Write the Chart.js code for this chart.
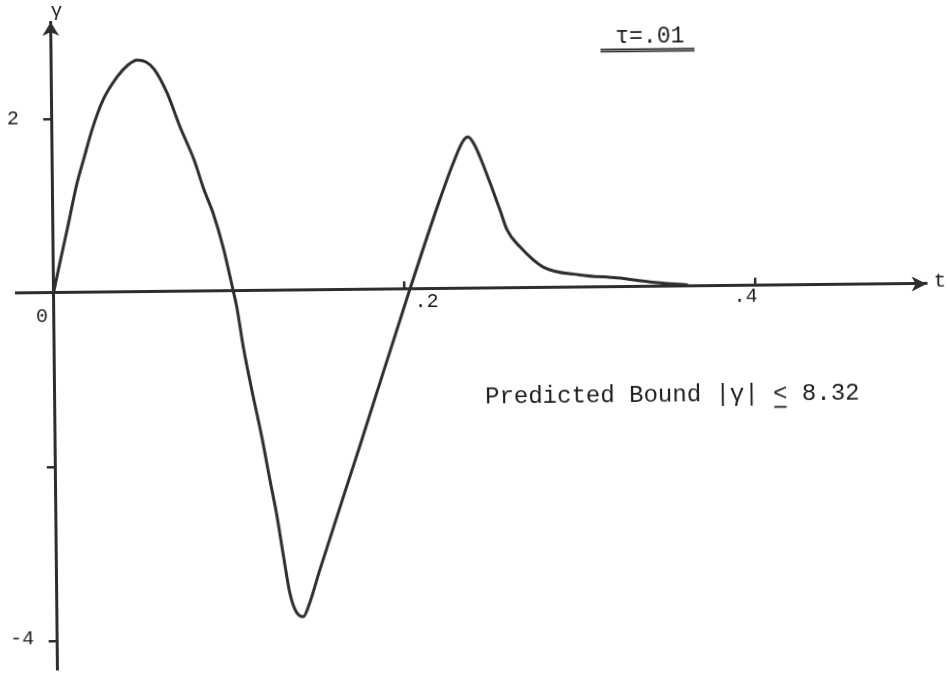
<!DOCTYPE html>
<html>
<head>
<meta charset="utf-8">
<title>Response γ(t), τ = .01</title>
<script src="https://cdn.jsdelivr.net/npm/chart.js@4.4.1/dist/chart.umd.min.js"></script>
<style>
  html, body { margin: 0; padding: 0; background: #ffffff; }
  #wrap { width: 948px; height: 674px; overflow: hidden; background: #ffffff; }
  /* the sheet sits a little askew on the page */
  #chart { display: block; transform: rotate(-0.6deg); transform-origin: 53.5px 293px; }
</style>
</head>
<body>
<div id="wrap"><canvas id="chart" width="948" height="674"></canvas></div>
<script>
// time samples t and the response γ(t)
const tValues = [
  0.0000, 0.0039, 0.0081, 0.0141, 0.0182, 0.0229, 0.0294, 0.0375, 0.0438, 0.0490,
  0.0541, 0.0586, 0.0659, 0.0731, 0.0809, 0.0864, 0.0914, 0.0969, 0.1023, 0.1043,
  0.1078, 0.1124, 0.1178, 0.1222, 0.1259, 0.1293, 0.1329, 0.1363, 0.1404, 0.1440,
  0.1500, 0.1737, 0.2031, 0.2200, 0.2284, 0.2340, 0.2371, 0.2405, 0.2438, 0.2494,
  0.2549, 0.2588, 0.2661, 0.2791, 0.3001, 0.3212, 0.3400, 0.3610
];
const gammaValues = [
  0.000, 0.355, 0.722, 1.262, 1.548, 1.869, 2.213, 2.475, 2.612, 2.668,
  2.644, 2.562, 2.285, 1.893, 1.512, 1.166, 0.900, 0.508, 0.013, -0.179,
  -0.640, -1.139, -1.677, -2.175, -2.580, -3.030, -3.480, -3.690, -3.751, -3.600,
  -3.220, -1.790, 0.003, 0.990, 1.440, 1.690, 1.744, 1.660, 1.512, 1.212,
  0.900, 0.670, 0.473, 0.240, 0.144, 0.105, 0.055, 0.016
];

// axis ticks and their labels
const xTickValues = [0.2, 0.4];
const xTickLabels = ['.2', '.4'];
const yTickValues = [2, -2, -4];
const yTickLabels = ['2', '', '-4'];

// axis extents (the ends carry the arrowheads)
const tRange = [-0.021, 0.4975];
const gammaRange = [-4.33, 3.115];

// annotations
const xAxisTitle = 't';
const yAxisTitle = 'γ';
const originLabel = '0';
const caseLabel = 'τ=.01';
const boundLabel = 'Predicted Bound |γ| < 8.32';

// styling
const ink = '#2e2e2e';
const textInk = '#1c1c1c';
const typeFace = '"Liberation Mono", "DejaVu Sans Mono", monospace';
const xLabelNudge = [[22, 13], [-10, 11]];        // [dx, dy] from tick point
const yLabelNudge = [[-38.7, -0.4], [0, 0], [-35, -2]];

const points = tValues.map((t, i) => ({ x: t, y: gammaValues[i] }));

const annotate = {
  id: 'annotate',
  afterDraw(chart) {
    const { ctx } = chart;
    const xs = chart.scales.x, ys = chart.scales.y;
    const x0 = xs.getPixelForValue(0);
    const y0 = ys.getPixelForValue(0);
    ctx.save();

    // arrowheads at the positive ends of both axes
    ctx.fillStyle = ink;
    const xr = xs.right;
    ctx.beginPath();
    ctx.moveTo(xr, y0);
    ctx.lineTo(xr - 15, y0 - 7.5);
    ctx.lineTo(xr - 11, y0);
    ctx.lineTo(xr - 15, y0 + 7.5);
    ctx.closePath();
    ctx.fill();
    const yt = ys.top;
    ctx.beginPath();
    ctx.moveTo(x0, yt);
    ctx.lineTo(x0 - 8.5, yt + 14);
    ctx.lineTo(x0, yt + 10);
    ctx.lineTo(x0 + 8.5, yt + 14);
    ctx.closePath();
    ctx.fill();

    // tick labels
    ctx.fillStyle = textInk;
    ctx.textAlign = 'center';
    ctx.textBaseline = 'middle';
    ctx.font = '20px ' + typeFace;
    xTickValues.forEach((v, i) => {
      ctx.fillText(xTickLabels[i], xs.getPixelForValue(v) + xLabelNudge[i][0], y0 + xLabelNudge[i][1]);
    });
    yTickValues.forEach((v, i) => {
      if (yTickLabels[i]) {
        ctx.fillText(yTickLabels[i], x0 + yLabelNudge[i][0], ys.getPixelForValue(v) + yLabelNudge[i][1]);
      }
    });
    ctx.fillText(originLabel, x0 - 11.7, y0 + 24);

    // axis names
    ctx.font = '19px ' + typeFace;
    ctx.fillText(yAxisTitle, x0 + 6, ys.top - 11);
    ctx.font = '21px ' + typeFace;
    ctx.fillText(xAxisTitle, xs.right + 13.5, y0 - 3);

    // case label, underlined twice
    ctx.font = '23px ' + typeFace;
    ctx.fillText(caseLabel, x0 + 599, y0 - 250);
    ctx.strokeStyle = ink;
    ctx.lineWidth = 1.6;
    ctx.beginPath();
    ctx.moveTo(x0 + 549.5, y0 - 237.8); ctx.lineTo(x0 + 643.5, y0 - 237.8);
    ctx.moveTo(x0 + 549.5, y0 - 235.6); ctx.lineTo(x0 + 643.5, y0 - 235.6);
    ctx.stroke();

    // bound note; the "<" is typed with an underline
    ctx.font = '24px ' + typeFace;
    ctx.textAlign = 'left';
    const bx = x0 + 430.5, by = y0 + 108.5;
    ctx.fillText(boundLabel, bx, by);
    const lt = boundLabel.indexOf('<');
    const ux = bx + ctx.measureText(boundLabel.slice(0, lt)).width;
    const uw = ctx.measureText('<').width;
    ctx.lineWidth = 1.8;
    ctx.strokeStyle = textInk;
    ctx.beginPath();
    ctx.moveTo(ux + 1, by + 13); ctx.lineTo(ux + uw - 1, by + 13);
    ctx.stroke();

    ctx.restore();
  }
};

new Chart(document.getElementById('chart'), {
  type: 'scatter',
  data: {
    datasets: [{
      data: points,
      showLine: true,
      borderColor: ink,
      borderWidth: 3,
      pointRadius: 0,
      pointHoverRadius: 0,
      fill: false,
      cubicInterpolationMode: 'monotone',
      borderCapStyle: 'round',
      borderJoinStyle: 'round'
    }]
  },
  options: {
    responsive: false,
    animation: false,
    devicePixelRatio: 1,
    layout: { padding: { left: 16.65, right: 21.35, top: 22, bottom: 4.3 } },
    plugins: { legend: { display: false }, tooltip: { enabled: false }, title: { display: false } },
    scales: {
      x: {
        type: 'linear',
        position: { y: 0 },
        min: tRange[0],
        max: tRange[1],
        afterBuildTicks: (s) => { s.ticks = xTickValues.map(v => ({ value: v })); },
        ticks: { display: false },
        grid: { drawOnChartArea: false, drawTicks: true, tickLength: -9, color: ink, lineWidth: 2.5 },
        border: { display: true, color: ink, width: 3 }
      },
      y: {
        type: 'linear',
        position: { x: 0 },
        min: gammaRange[0],
        max: gammaRange[1],
        afterBuildTicks: (s) => { s.ticks = yTickValues.map(v => ({ value: v })); },
        ticks: { display: false },
        grid: { drawOnChartArea: false, drawTicks: true, tickLength: 7, color: ink, lineWidth: 2.5 },
        border: { display: true, color: ink, width: 3 }
      }
    }
  },
  plugins: [annotate]
});
</script>
</body>
</html>
